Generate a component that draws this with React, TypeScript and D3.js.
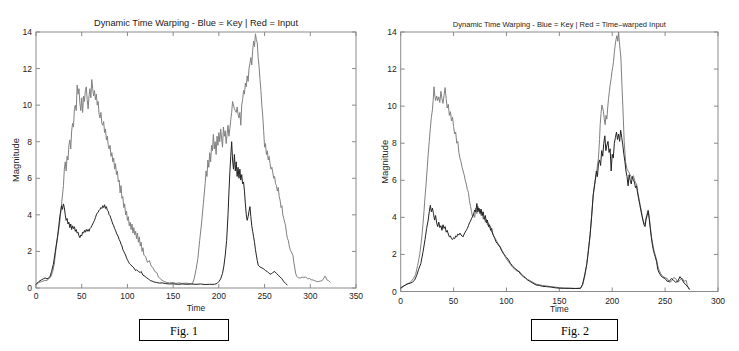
import React from "react";
import * as d3 from "d3";

// ---------- DATA ----------
const fig1Title = "Dynamic Time Warping - Blue = Key | Red = Input";
const fig2Title = "Dynamic Time Warping - Blue = Key | Red = Time\u2013warped Input";
const yTicks = [0, 2, 4, 6, 8, 10, 12, 14];
const fig1XTicks = [0, 50, 100, 150, 200, 250, 300, 350];
const fig2XTicks = [0, 50, 100, 150, 200, 250, 300];

// Fig 1: input (red, shown light gray)
const fig1Input: [number, number][] = [
  [0,0.15],[3,0.3],[6,0.35],[9,0.4],[12,0.42],[14,0.5],[16,0.6],[18,0.85],[20,1.3],[22,2.2],[24,2.9],[26,3.6],[28,4.6],[30,5.6],
  [31,6.5],[32,6.9],[33,6.4],[34,7.2],[35,7.0],[36,7.8],[37,8.1],[38,7.6],[39,8.6],[40,9.0],[41,8.8],[42,9.8],[43,10.0],[44,9.7],
  [45,11.1],[46,10.6],[47,10.9],[48,10.1],[49,9.7],[50,10.4],[51,9.6],[52,10.5],[53,10.2],[54,10.8],[55,11.0],[56,10.3],[57,9.8],
  [58,10.5],[59,10.9],[60,10.4],[61,11.4],[62,10.9],[63,10.5],[64,10.8],[65,10.3],[66,10.6],[67,10.0],[68,10.2],[69,9.5],[70,9.3],
  [71,9.6],[72,9.0],[73,8.9],[74,9.1],[75,8.5],[76,8.7],[77,8.1],[78,8.3],[79,7.8],[80,7.6],[81,7.8],[82,7.2],[83,7.4],[84,6.9],
  [85,7.1],[86,6.5],[87,6.8],[88,6.2],[89,6.4],[90,5.8],[91,5.9],[92,5.2],[93,5.6],[94,4.9],[95,5.0],[96,4.4],[97,4.6],[98,4.0],
  [99,4.2],[100,3.7],[101,3.9],[102,3.4],[103,3.6],[104,3.2],[105,3.5],[106,3.0],[107,3.3],[108,2.9],[109,3.1],[110,2.7],[111,3.0],
  [112,2.5],[113,2.8],[114,2.3],[115,2.5],[116,2.0],[117,2.2],[118,1.8],[120,1.7],[122,1.4],[124,1.5],[126,1.2],[128,1.1],[130,0.9],
  [132,0.85],[134,0.6],[136,0.5],[138,0.42],[140,0.36],[143,0.3],[146,0.28],[150,0.3],[153,0.25],[156,0.28],[160,0.25],[164,0.27],
  [168,0.24],[171,0.22],[173,0.5],[175,1.0],[177,1.6],[179,2.6],[181,3.5],[183,4.6],[185,5.7],[186,6.4],[187,6.1],[188,7.0],[189,6.6],
  [190,7.4],[191,6.9],[192,7.8],[193,7.5],[194,8.4],[195,7.6],[196,8.0],[197,7.3],[198,8.3],[199,7.8],[200,8.5],[201,8.0],[202,8.7],
  [203,8.2],[204,7.7],[205,8.8],[206,8.3],[207,8.6],[208,7.9],[209,8.4],[210,8.9],[211,8.3],[212,8.7],[213,9.2],[214,9.6],[215,10.2],
  [216,10.0],[217,9.8],[218,9.7],[219,9.6],[220,9.9],[221,9.5],[222,9.3],[223,9.6],[224,8.9],[225,10.0],[226,10.3],[227,10.8],
  [228,10.6],[229,11.2],[230,11.0],[231,11.6],[232,11.3],[233,12.0],[234,12.3],[235,12.6],[236,12.2],[237,13.0],[238,13.5],[239,13.2],
  [240,13.9],[241,13.6],[242,13.4],[243,12.6],[244,12.1],[245,11.4],[246,10.8],[247,10.0],[248,9.4],[249,8.6],[250,7.7],[251,7.9],
  [252,7.3],[253,7.5],[254,7.0],[255,7.2],[256,6.8],[257,6.5],[258,6.6],[259,6.3],[260,6.0],[261,6.1],[262,5.7],[263,5.6],[264,5.3],
  [265,5.5],[266,5.0],[267,4.8],[268,4.4],[269,4.5],[270,4.0],[271,3.8],[272,3.6],[273,3.4],[274,3.0],[275,2.7],[276,2.6],[277,2.3],
  [278,2.1],[279,2.0],[281,1.8],[282,1.4],[283,1.1],[284,0.8],[285,0.65],[287,0.55],[289,0.55],[291,0.6],[293,0.58],[295,0.6],
  [297,0.5],[299,0.52],[301,0.45],[303,0.44],[305,0.4],[307,0.35],[309,0.35],[311,0.38],[313,0.4],[315,0.55],[316,0.65],[317,0.6],
  [318,0.45],[320,0.4],[322,0.3]
];

// Fig 1: key (blue, shown dark)
const fig1Key: [number, number][] = [
  [0,0.2],[3,0.35],[6,0.45],[8,0.5],[10,0.55],[12,0.5],[14,0.55],[15.5,0.65],[17,0.9],[19,1.3],[20.5,1.8],[22,2.3],[23.5,2.8],
  [25,3.4],[26,3.9],[27,4.2],[28,4.5],[29,4.3],[30,4.6],[31,4.4],[32,4.0],[33,3.7],[34,3.8],[35,3.5],[36,3.6],[37,3.3],[38,3.5],
  [39,3.2],[40,3.4],[41,3.25],[42,3.35],[43,3.1],[44,3.2],[45,3.0],[46,3.05],[47,2.85],[48,2.75],[49,2.9],[50,2.85],[51,3.05],
  [52,3.0],[53,3.15],[54,3.05],[55,3.2],[56,3.1],[57,3.2],[58,3.1],[59,3.25],[60,3.3],[61,3.4],[62,3.5],[63,3.6],[64,3.7],[65,3.85],
  [66,4.0],[67,4.1],[68,4.15],[69,4.25],[70,4.3],[71,4.4],[72,4.35],[73,4.5],[74,4.4],[75,4.55],[76,4.35],[77,4.45],[78,4.25],
  [79,4.2],[80,4.0],[81,3.95],[82,3.8],[83,3.65],[84,3.5],[85,3.4],[86,3.25],[87,3.15],[88,3.0],[89,2.9],[90,2.8],[91,2.65],
  [92,2.55],[93,2.4],[94,2.3],[95,2.1],[96,2.0],[97,1.9],[98,1.8],[99,1.65],[100,1.55],[101,1.45],[102,1.35],[103,1.3],[105,1.2],
  [107,1.1],[109,0.95],[110,1.0],[112,0.9],[114,0.85],[115,0.9],[117,0.7],[119,0.65],[121,0.55],[123,0.5],[125,0.4],[127,0.38],
  [129,0.33],[132,0.3],[135,0.27],[138,0.28],[142,0.24],[146,0.22],[150,0.23],[155,0.2],[160,0.22],[165,0.2],[170,0.22],[175,0.2],
  [180,0.22],[185,0.19],[190,0.2],[195,0.2],[198,0.25],[200,0.35],[202,0.5],[204,0.8],[205.5,1.2],[207,1.8],[208.5,2.6],[210,4.0],
  [211,5.2],[212,6.3],[213,7.2],[214,8.0],[215,7.0],[216,6.5],[217,7.3],[218,6.4],[219,6.9],[220,6.1],[221,6.6],[222,6.0],[223,6.5],
  [224,5.9],[225,6.2],[226,5.7],[227,5.8],[228,5.3],[229,4.6],[230,4.0],[231,3.7],[232,3.9],[233,4.2],[234,4.45],[235,3.9],[236,3.4],
  [237,3.1],[238,2.8],[239,2.5],[240,2.1],[241,1.8],[242,1.5],[243,1.25],[245,1.15],[247,1.1],[249,1.05],[251,0.95],[253,0.9],
  [255,0.8],[257,0.75],[259,0.85],[261,0.9],[263,0.8],[265,0.7],[267,0.6],[269,0.5],[271,0.35],[273,0.25],[275,0.15]
];

// Fig 2: key (blue, shown dark)
const fig2Key: [number, number][] = [
  [0,0.2],[3,0.3],[6,0.4],[9,0.45],[11,0.5],[13,0.6],[15,0.85],[17,1.2],[19,1.5],[21,2.1],[23,2.8],[24.5,3.4],[26,3.85],[27,4.3],
  [28,4.65],[29,4.3],[30,4.5],[31,4.2],[32,3.85],[33,4.1],[34,3.7],[35,3.5],[36,3.75],[37,3.45],[38,3.55],[39,3.3],[40,3.6],
  [41,3.4],[42,3.5],[43,3.2],[44,3.3],[45,3.1],[46,2.95],[47,3.0],[48,2.85],[49,2.8],[50,2.9],[51,2.85],[52,3.0],[53,2.95],[54,3.1],
  [55,3.05],[56,3.15],[57,3.05],[58,3.0],[59,2.95],[60,3.1],[61,3.2],[62,3.3],[63,3.4],[64,3.55],[65,3.7],[66,3.8],[67,3.95],
  [68,4.05],[69,4.2],[70,4.4],[71,4.3],[72,4.75],[73,4.3],[74,4.5],[75,4.2],[76,4.45],[77,4.1],[78,4.3],[79,3.9],[80,4.1],[81,3.7],
  [82,3.85],[83,3.5],[84,3.6],[85,3.3],[86,3.4],[87,3.1],[88,3.0],[89,2.85],[90,2.7],[91,2.6],[92,2.55],[93,2.45],[94,2.4],
  [95,2.25],[96,2.15],[97,2.05],[98,2.0],[99,1.9],[100,1.85],[102,1.7],[104,1.5],[106,1.35],[108,1.25],[110,1.15],[112,1.05],
  [114,0.9],[116,0.8],[118,0.72],[120,0.62],[122,0.55],[125,0.45],[128,0.35],[131,0.33],[134,0.28],[138,0.26],[142,0.24],[146,0.2],
  [150,0.18],[155,0.17],[160,0.17],[165,0.16],[170,0.17],[172,0.4],[174,0.9],[176,1.5],[177.5,2.2],[179,3.0],[180.5,4.0],[182,5.2],
  [183.5,5.8],[185,6.5],[186,6.2],[187,6.9],[188,7.1],[189,6.8],[190,7.6],[191,7.3],[192,8.0],[193,8.4],[194,7.6],[195,7.9],
  [196,8.1],[197,7.5],[198,7.7],[199,6.5],[200,7.4],[201,7.2],[202,8.0],[203,8.3],[204,8.6],[205,8.2],[206,8.5],[207,8.1],[208,8.7],
  [209,8.3],[210,7.9],[211,7.4],[212,7.0],[213,6.5],[214,6.2],[215,5.7],[216,6.3],[217,6.0],[218,5.8],[219,6.2],[220,6.0],[221,5.9],
  [222,5.6],[223,5.7],[224,5.3],[225,5.0],[226,4.7],[227,4.4],[228,4.1],[229,3.85],[230,3.6],[231,3.5],[232,3.9],[233,4.1],
  [234,4.35],[235,3.9],[236,3.4],[237,2.9],[238,2.5],[239,2.2],[240,2.0],[241,1.8],[242,1.6],[243,1.2],[244,1.05],[246,0.85],
  [248,0.75],[250,0.7],[252,0.55],[254,0.55],[256,0.7],[258,0.6],[260,0.5],[262,0.55],[264,0.8],[266,0.65],[268,0.45],[270,0.35],
  [272,0.2],[273,0.1]
];

// Fig 2: time-warped input (red, shown light gray)
const fig2Input: [number, number][] = [
  [0,0.15],[3,0.3],[6,0.4],[8,0.45],[10,0.55],[12,0.7],[14,0.9],[16,1.4],[18,2.0],[20,2.95],[21,3.6],[22,4.3],[23,5.1],[24,5.8],
  [25,6.6],[26,7.4],[27,8.1],[28,8.8],[29,9.4],[30,9.8],[30.7,10.3],[31.5,11.05],[32.2,10.6],[33,10.3],[34,10.55],[35,10.3],
  [36,10.5],[37,10.2],[38,10.8],[39,10.4],[40,10.15],[41,10.6],[42,11.0],[43,10.4],[44,9.9],[45,10.1],[46,9.5],[47,9.7],[48,9.2],
  [49,9.4],[50,8.9],[51,8.5],[52,8.6],[53,8.0],[54,8.1],[55,7.5],[56,7.2],[57,7.0],[58,6.7],[59,6.5],[60,6.3],[61,6.0],[62,5.8],
  [63,5.5],[64,5.35],[65,4.9],[66,4.6],[67,4.3],[68,4.0],[69,4.2],[70,4.0],[71,4.5],[72,4.2],[73,4.6],[74,4.35],[75,4.45],[76,4.1],
  [77,4.3],[78,3.9],[79,4.0],[80,3.75],[81,3.9],[82,3.6],[83,3.7],[84,3.45],[85,3.5],[86,3.2],[87,3.15],[88,2.95],[89,2.9],[90,2.8],
  [91,2.7],[92,2.6],[93,2.5],[94,2.45],[95,2.3],[96,2.2],[97,2.1],[98,1.95],[99,1.85],[100,1.75],[102,1.6],[104,1.45],[106,1.3],
  [108,1.2],[110,1.1],[112,1.1],[114,0.95],[116,0.85],[118,0.75],[120,0.65],[122,0.6],[125,0.5],[128,0.4],[131,0.36],[134,0.33],
  [138,0.3],[142,0.26],[146,0.24],[150,0.2],[155,0.19],[160,0.18],[165,0.17],[170,0.18],[172,0.35],[174,0.8],[176,1.5],[177.5,2.3],
  [179,3.0],[180.5,4.1],[182,5.2],[183.5,5.9],[185,6.3],[186,6.8],[187,7.2],[188,8.2],[188.6,9.0],[189.4,9.6],[190.2,10.06],
  [191,9.9],[191.7,9.7],[192.5,9.3],[193.3,9.0],[194.1,9.5],[194.9,9.3],[195.7,9.9],[196.5,10.4],[197.3,10.8],[198,11.14],[199,11.5],
  [199.7,11.86],[200.5,12.1],[201.2,12.4],[202,12.9],[202.8,13.3],[203.6,13.6],[204.4,13.8],[205.2,13.5],[206,14.0],[207,13.3],
  [208.2,12.6],[209.2,11.1],[210.1,9.9],[211.3,8.1],[212.6,7.0],[214,6.6],[215.4,6.46],[217,6.3],[218.6,6.1],[220,6.25],[221.7,5.9],
  [223,5.8],[224,5.4],[225,5.1],[226,4.8],[227,4.5],[228,4.2],[229,3.9],[230,3.7],[231,3.6],[232,4.0],[233,4.2],[234,4.4],[235,4.0],
  [236,3.5],[237,3.0],[238,2.65],[239,2.35],[240,2.1],[241,1.9],[242,1.7],[243,1.4],[244,1.2],[246,0.95],[248,0.8],[250,0.75],
  [252,0.7],[254,0.5],[256,0.55],[258,0.75],[260,0.7],[262,0.5],[264,0.6],[266,0.72],[268,0.55],[270,0.6],[271,0.3],[273,0.15]
];

// ---------- STYLE ----------
const KEY_COLOR = "#222";
const INPUT_COLOR = "#808080";
const FRAME = "#8a8a8a";
const SANS = "'Liberation Sans', Arial, Helvetica, sans-serif";
const SERIF = "'Liberation Serif', 'Times New Roman', serif";

type PanelProps = {
  left: number; right: number; top: number; bottom: number;
  xMax: number; xTicks: number[];
  title: string; titleSize: number; titleWidth: number; titleY: number;
  xLabelY: number; timeY: number; magX: number;
  keyData: [number, number][]; inputData: [number, number][];
};

function Panel(p: PanelProps) {
  const x = d3.scaleLinear().domain([0, p.xMax]).range([p.left, p.right]);
  const y = d3.scaleLinear().domain([0, 14]).range([p.bottom, p.top]);
  const line = d3.line<[number, number]>().x(d => x(d[0])).y(d => y(d[1]));
  const cx = (p.left + p.right) / 2;
  const cy = (p.top + p.bottom) / 2;
  const tl = 4;
  return (
    <g>
      <rect x={p.left} y={p.top} width={p.right - p.left} height={p.bottom - p.top} fill="none" stroke={FRAME} strokeWidth={1} />
      {p.xTicks.map(t => (
        <g key={"x" + t}>
          <line x1={x(t)} x2={x(t)} y1={p.bottom} y2={p.bottom - tl} stroke={FRAME} />
          <line x1={x(t)} x2={x(t)} y1={p.top} y2={p.top + tl} stroke={FRAME} />
          <text x={x(t)} y={p.xLabelY} fontSize={8.5} textAnchor="middle" fill="#222" fontFamily={SANS}>{t}</text>
        </g>
      ))}
      {yTicks.map(t => (
        <g key={"y" + t}>
          <line x1={p.left} x2={p.left + tl} y1={y(t)} y2={y(t)} stroke={FRAME} />
          <line x1={p.right} x2={p.right - tl} y1={y(t)} y2={y(t)} stroke={FRAME} />
          <text x={p.left - 4} y={y(t) + 3} fontSize={8.5} textAnchor="end" fill="#222" fontFamily={SANS}>{t}</text>
        </g>
      ))}
      <path d={line(p.inputData) || ""} fill="none" stroke={INPUT_COLOR} strokeWidth={1} />
      <path d={line(p.keyData) || ""} fill="none" stroke={KEY_COLOR} strokeWidth={1} />
      <text x={cx} y={p.titleY} fontSize={p.titleSize} textAnchor="middle" fill="#222" fontFamily={SANS}
        textLength={p.titleWidth} lengthAdjust="spacingAndGlyphs">{p.title}</text>
      <text x={cx} y={p.timeY} fontSize={8.5} textAnchor="middle" fill="#222" fontFamily={SANS}>Time</text>
      <text transform={`translate(${p.magX},${cy}) rotate(-90)`} fontSize={9} textAnchor="middle" fill="#222" fontFamily={SANS}
        textLength={44} lengthAdjust="spacingAndGlyphs">Magnitude</text>
    </g>
  );
}

export default function App() {
  return (
    <svg width={739} height={351} style={{ position: "absolute", left: 0, top: 0, background: "#fff" }}>
      <rect x={0} y={0} width={739} height={351} fill="#fff" />
      <Panel left={36} right={356} top={32} bottom={288} xMax={350} xTicks={fig1XTicks}
        title={fig1Title} titleSize={9} titleWidth={204} titleY={26}
        xLabelY={299} timeY={311} magX={19} keyData={fig1Key} inputData={fig1Input} />
      <Panel left={400.7} right={718} top={32} bottom={291.5} xMax={300} xTicks={fig2XTicks}
        title={fig2Title} titleSize={8} titleWidth={213} titleY={27}
        xLabelY={303.5} timeY={312} magX={388} keyData={fig2Key} inputData={fig2Input} />
      <rect x={139.5} y={319.5} width={89} height={21} fill="none" stroke="#000" strokeWidth={1} />
      <text x={184} y={335} fontSize={12} textAnchor="middle" fontFamily={SERIF} fill="#000">Fig. 1</text>
      <rect x={531.5} y={319.5} width={86} height={21} fill="none" stroke="#000" strokeWidth={1} />
      <text x={575} y={335} fontSize={12} textAnchor="middle" fontFamily={SERIF} fill="#000">Fig. 2</text>
    </svg>
  );
}
